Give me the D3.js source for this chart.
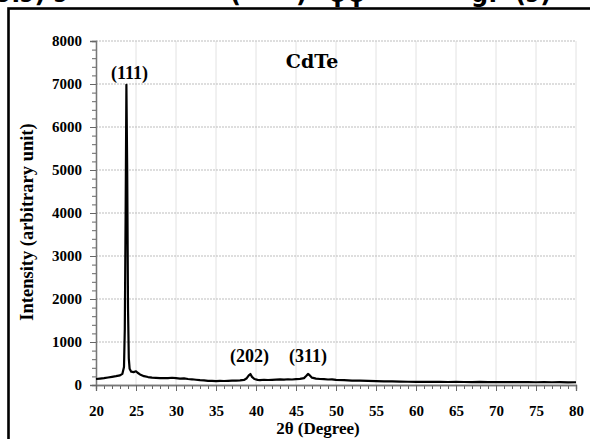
<!DOCTYPE html>
<html>
<head>
<meta charset="utf-8">
<script src="https://cdn.jsdelivr.net/npm/d3@7"></script>
<style>
  body { margin: 0; background: #fff; }
  svg { display: block; }
</style>
</head>
<body>
<svg id="chart" width="590" height="439"></svg>
<script>
// XRD pattern of CdTe
const twoTheta = [20.0, 20.5, 21.0, 21.5, 22.0, 22.5, 23.0, 23.3, 23.5, 23.6, 23.7, 23.8, 23.9, 24.0, 24.1, 24.2, 24.4, 24.7, 25.0, 25.2, 25.5, 26.0, 26.5, 27.0, 27.5, 28.0, 28.5, 29.0, 29.5, 30.0, 30.5, 31.0, 31.5, 32.0, 32.5, 33.0, 33.5, 34.0, 34.5, 35.0, 35.5, 36.0, 36.5, 37.0, 37.5, 38.0, 38.5, 38.8, 39.1, 39.3, 39.5, 39.8, 40.2, 40.5, 41.0, 41.5, 42.0, 42.5, 43.0, 43.5, 44.0, 44.5, 45.0, 45.5, 46.0, 46.3, 46.5, 46.7, 47.0, 47.5, 48.0, 48.5, 49.0, 49.5, 50.0, 51.0, 52.0, 53.0, 54.0, 55.0, 56.0, 57.0, 58.0, 59.0, 60.0, 61.0, 62.0, 63.0, 64.0, 65.0, 66.0, 67.0, 68.0, 69.0, 70.0, 71.0, 72.0, 73.0, 74.0, 75.0, 76.0, 77.0, 78.0, 79.0, 80.0];
const intensity = [140, 150, 160, 175, 190, 205, 225, 260, 420, 1300, 3900, 6980, 5000, 1800, 620, 380, 310, 300, 320, 285, 245, 205, 185, 170, 165, 160, 158, 162, 168, 160, 150, 155, 140, 133, 122, 112, 108, 98, 97, 92, 98, 93, 96, 100, 104, 108, 118, 150, 225, 255, 190, 140, 118, 115, 122, 116, 120, 126, 130, 124, 134, 128, 138, 143, 160, 215, 258, 228, 170, 150, 140, 138, 128, 132, 118, 112, 104, 100, 94, 88, 84, 82, 80, 76, 74, 76, 72, 74, 70, 72, 70, 68, 71, 67, 69, 66, 68, 65, 67, 64, 66, 64, 65, 63, 64];
const peakLabels = ['(111)', '(202)', '(311)'];
const peakPos = [23.8, 39.2, 46.5];
const peakY = [7120, 540, 540];
const yTicks = [0, 1000, 2000, 3000, 4000, 5000, 6000, 7000, 8000];
const xTicks = [20, 25, 30, 35, 40, 45, 50, 55, 60, 65, 70, 75, 80];

const svg = d3.select('#chart');

// bits of the caption above, cut off by the crop
const capBits = [
  { x: -3, t: 'ɔ.ɔ) ɔ' },
  { x: 230, t: '(' },
  { x: 296, t: ')' },
  { x: 328, t: 'ψψ' },
  { x: 471, t: 'g.' },
  { x: 515, t: '(ɔ)-' }
];
svg.append('g')
  .attr('font-family', 'DejaVu Sans')
  .attr('font-weight', 'bold')
  .attr('font-size', 24)
  .attr('fill', '#000')
  .selectAll('text')
  .data(capBits)
  .enter()
  .append('text')
  .attr('x', d => d.x)
  .attr('y', 2)
  .text(d => d.t);

// frame round the figure
svg.append('rect')
  .attr('x', 8.5).attr('y', 8.5)
  .attr('width', 620).attr('height', 460)
  .attr('fill', 'none')
  .attr('stroke', '#000')
  .attr('stroke-width', 2.6);

const mLeft = 96, mRight = 576, mTop = 41, mBottom = 385;

const x = d3.scaleLinear().domain([20, 80]).range([mLeft, mRight]);
const y = d3.scaleLinear().domain([0, 8000]).range([mBottom, mTop]);

// grid
svg.append('g')
  .selectAll('line')
  .data(xTicks.slice(1))
  .enter()
  .append('line')
  .attr('x1', d => x(d)).attr('x2', d => x(d))
  .attr('y1', mTop).attr('y2', mBottom)
  .attr('stroke', '#e2e2e2')
  .attr('stroke-width', 1);

svg.append('g')
  .selectAll('line')
  .data(yTicks.slice(1))
  .enter()
  .append('line')
  .attr('x1', mLeft).attr('x2', mRight)
  .attr('y1', d => y(d)).attr('y2', d => y(d))
  .attr('stroke', '#bdbdbd')
  .attr('stroke-width', 1)
  .attr('stroke-dasharray', '2,1');

// minor ticks
const yMinor = d3.range(0, 8001, 200);
const xMinor = d3.range(20, 80.1, 1);

const yAxis = d3.axisLeft(y).tickValues(yMinor).tickSize(4).tickFormat('');
const xAxis = d3.axisBottom(x).tickValues(xMinor).tickSize(4).tickFormat('');

const gy = svg.append('g').attr('transform', `translate(${mLeft},0)`).call(yAxis);
const gx = svg.append('g').attr('transform', `translate(0,${mBottom})`).call(xAxis);

// major ticks with labels
const gy2 = svg.append('g').attr('transform', `translate(${mLeft},0)`)
  .call(d3.axisLeft(y).tickValues(yTicks).tickSize(6).tickPadding(8).tickFormat(d3.format('d')));
const gx2 = svg.append('g').attr('transform', `translate(0,${mBottom})`)
  .call(d3.axisBottom(x).tickValues(xTicks).tickSize(6).tickPadding(14).tickFormat(d3.format('d')));

[gy, gx, gy2, gx2].forEach(g => {
  g.selectAll('path').attr('stroke', '#777').attr('stroke-width', 1.3);
  g.selectAll('line').attr('stroke', '#666');
  g.selectAll('text')
    .attr('font-family', 'Liberation Serif')
    .attr('font-weight', 'bold')
    .attr('font-size', 15)
    .attr('fill', '#000');
});
gy2.selectAll('text').attr('dy', '0.32em');

// the pattern
const pts = twoTheta.map((t, i) => [t, intensity[i]]);
const line = d3.line()
  .x(d => x(d[0]))
  .y(d => y(d[1]));

svg.append('path')
  .datum(pts)
  .attr('d', line)
  .attr('fill', 'none')
  .attr('stroke', '#000')
  .attr('stroke-width', 2.2)
  .attr('stroke-linejoin', 'round');

// peak labels
svg.append('g')
  .selectAll('text')
  .data(peakLabels)
  .enter()
  .append('text')
  .attr('x', (d, i) => x(peakPos[i]) + (i === 0 ? 3 : 0))
  .attr('y', (d, i) => y(peakY[i]))
  .attr('text-anchor', 'middle')
  .attr('font-family', 'Liberation Serif')
  .attr('font-weight', 'bold')
  .attr('font-size', 18)
  .text(d => d);

svg.append('text')
  .attr('x', 312).attr('y', 68)
  .attr('text-anchor', 'middle')
  .attr('font-family', 'DejaVu Serif')
  .attr('font-weight', 'bold')
  .attr('font-size', 19)
  .text('CdTe');

// axis titles
svg.append('text')
  .attr('x', 318).attr('y', 434)
  .attr('text-anchor', 'middle')
  .attr('font-family', 'Liberation Serif')
  .attr('font-weight', 'bold')
  .attr('font-size', 17)
  .text('2θ (Degree)');

svg.append('text')
  .attr('transform', 'translate(33,222) rotate(-90)')
  .attr('text-anchor', 'middle')
  .attr('font-family', 'Liberation Serif')
  .attr('font-weight', 'bold')
  .attr('font-size', 18.5)
  .text('Intensity (arbitrary unit)');
</script>
</body>
</html>
